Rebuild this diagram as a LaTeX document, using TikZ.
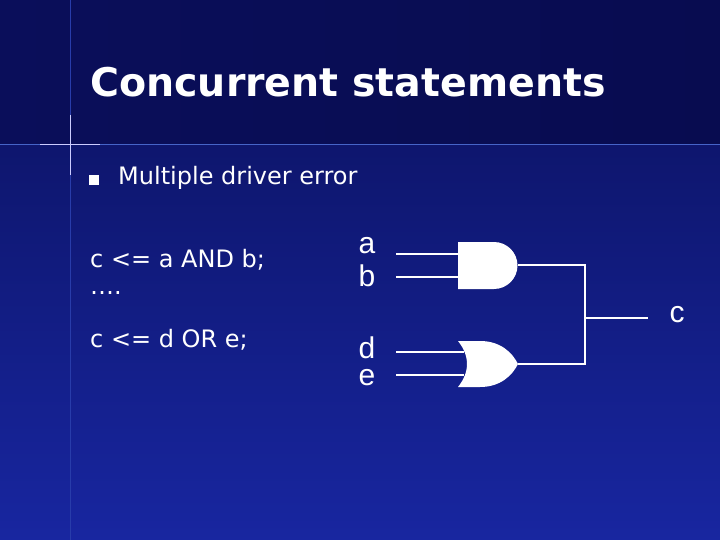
\documentclass[tikz,border=0pt]{standalone}
\usepackage{fontspec}
\setmainfont{DejaVu Sans}
\newfontfamily\arialf{Liberation Sans}
\definecolor{bgtop}{RGB}{10,14,90}
\definecolor{bgtop2}{RGB}{8,12,80}
\definecolor{bgmid}{RGB}{14,22,110}
\definecolor{bgbot}{RGB}{24,38,160}
\definecolor{hline}{RGB}{70,100,200}
\definecolor{vline}{RGB}{40,60,170}
\begin{document}
\begin{tikzpicture}[x=1pt,y=-1pt,
  wire/.style={white,line width=1.5pt},
  gate/.style={fill=white,draw=none},
  lbl/.style={text=white,font=\arialf\fontsize{30}{32}\selectfont,inner sep=0},
  txt/.style={text=white,anchor=west,inner sep=0,font=\fontsize{24}{28}\selectfont}]
\shade[top color=bgmid,bottom color=bgbot] (0,145) rectangle (720,540);
\shade[left color=bgtop,right color=bgtop2] (0,0) rectangle (720,145);
\useasboundingbox (0,0) rectangle (720,540);
\draw[hline,line width=1pt] (0,145) -- (720,145);
\draw[vline,line width=1pt] (70,0) -- (70,540);
\draw[white!80!blue,line width=1pt] (40,145) -- (100,145) (70,115) -- (70,175);
\node[text=white,anchor=west,inner sep=0,font=\bfseries\fontsize{39.5}{42}\selectfont] (title) at (90,82) {Concurrent statements};
\node[fill=white,minimum size=10pt,inner sep=0] (bul) at (94,180) {};
\node[txt] (t1) at (118,178) {Multiple driver error};
\node[txt] (l1) at (90,260) {c <= a AND b;};
\node[txt] (l2) at (90,293) {\textellipsis.};
\node[txt] (l3) at (90,340) {c <= d OR e;};
% AND gate
\fill[gate] (458,242) -- (494,242) arc[start angle=-90,end angle=90,radius=23.5] -- (458,289) -- cycle;
% OR gate
\fill[gate] (458,341) -- (480,341) .. controls (500,341) and (512,352) .. (518,364)
  .. controls (512,376) and (500,387) .. (480,387) -- (458,387)
  .. controls (470,372) and (470,356) .. (458,341) -- cycle;
\coordinate (ai) at (396,254); \coordinate (ag) at (462,254);
\coordinate (bi) at (396,277); \coordinate (bg) at (462,277);
\coordinate (di) at (396,352); \coordinate (dg) at (464,352);
\coordinate (ei) at (396,375); \coordinate (eg) at (464,375);
\coordinate (ao) at (518,265); \coordinate (oo) at (518,364);
\coordinate (j1) at (585,265); \coordinate (j2) at (585,364); \coordinate (jm) at (585,318);
\coordinate (co) at (648,318);
\draw[wire] (ai)--(ag) (bi)--(bg) (di)--(dg) (ei)--(eg);
\draw[wire] (ao)--(j1)--(j2)--(oo) (jm)--(co);
\node[lbl] (a) at (367,246) {a};
\node[lbl] (b) at (367,276) {b};
\node[lbl] (d) at (367,348) {d};
\node[lbl] (e) at (367,378) {e};
\node[lbl] (c) at (677,315) {c};
\end{tikzpicture}
\end{document}
